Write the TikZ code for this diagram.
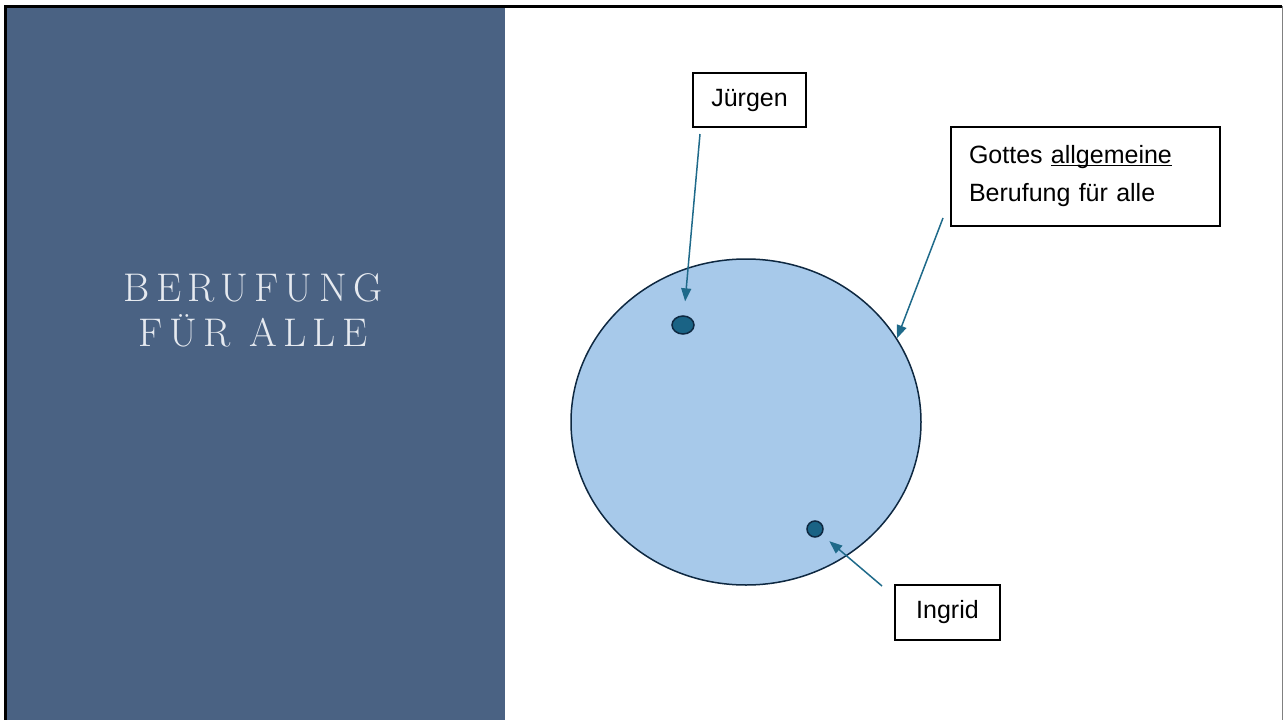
\documentclass[tikz,border=0pt]{standalone}
\usepackage{fontspec}
\newfontfamily\boxfont{Liberation Sans}
\newfontfamily\titlefont[LetterSpace=16]{Latin Modern Roman}
\usetikzlibrary{shapes.geometric,arrows.meta}
\definecolor{panelblue}{HTML}{4A6283}
\definecolor{areablue}{HTML}{A7C9EA}
\definecolor{darknavy}{HTML}{0E2841}
\definecolor{dotteal}{HTML}{1A6385}
\definecolor{arrowteal}{HTML}{1F6A8A}
\definecolor{titlegray}{HTML}{E6EAF0}
\tikzstyle{namebox} = [rectangle, draw=black, line width=1.2pt, fill=white,
    font=\boxfont\fontsize{25}{38}\selectfont]
\tikzstyle{callarea} = [ellipse, draw=darknavy, fill=areablue, line width=1.5pt,
    minimum width=350pt, minimum height=326pt]
\tikzstyle{dot} = [ellipse, draw=darknavy, fill=dotteal, line width=1.5pt, inner sep=0pt]
\tikzstyle{line} = [draw, arrowteal, line width=1.5pt, -{Triangle[length=13pt,width=10pt]}]
\tikzstyle{title} = [text=titlegray, align=center, font=\titlefont\fontsize{40}{45}\selectfont]

\begin{document}
\begin{tikzpicture}[x=1pt, y=-1pt]
    \useasboundingbox (0,0) rectangle (1283,720);

        % Slide background
        \fill [panelblue] (7,7) rectangle (505,720);
        \draw [line width=3pt] (5.5,720) -- (5.5,6) -- (1282,6);
        \draw [gray, line width=1pt] (1282,6) -- (1282,720);

        % Place nodes
        \node [title] (heading) at (253,310) {BERUFUNG\\FÜR ALLE};
        \node [callarea] (calling) at (746,422) {};
        \node [dot, minimum width=22pt, minimum height=18pt] (juergen) at (683,325) {};
        \node [dot, minimum size=16pt] (ingrid) at (815,529) {};
        \node [namebox, minimum width=113pt, minimum height=54pt] (jbox) at (749.5,100) {Jürgen};
        \node [namebox, minimum width=105pt, minimum height=55pt] (ibox) at (947.5,612.5) {Ingrid};
        \node [namebox, text width=233pt, align=left, inner xsep=18pt, minimum height=99pt] (gbox)
            at (1085.5,176.5) {Gottes \underline{\smash{allgemeine}}\\Berufung für alle};
        \coordinate (jstart) at (700,134);
        \coordinate (gstart) at (943,218);
        \coordinate (istart) at (882,586);

        % Draw edges
        \path [line, shorten >=14pt] (jstart) -- (juergen);
        \path [line] (gstart) -- (calling.29);
        \path [line, shorten >=10pt] (istart) -- (ingrid);

    \end{tikzpicture}
\end{document}
